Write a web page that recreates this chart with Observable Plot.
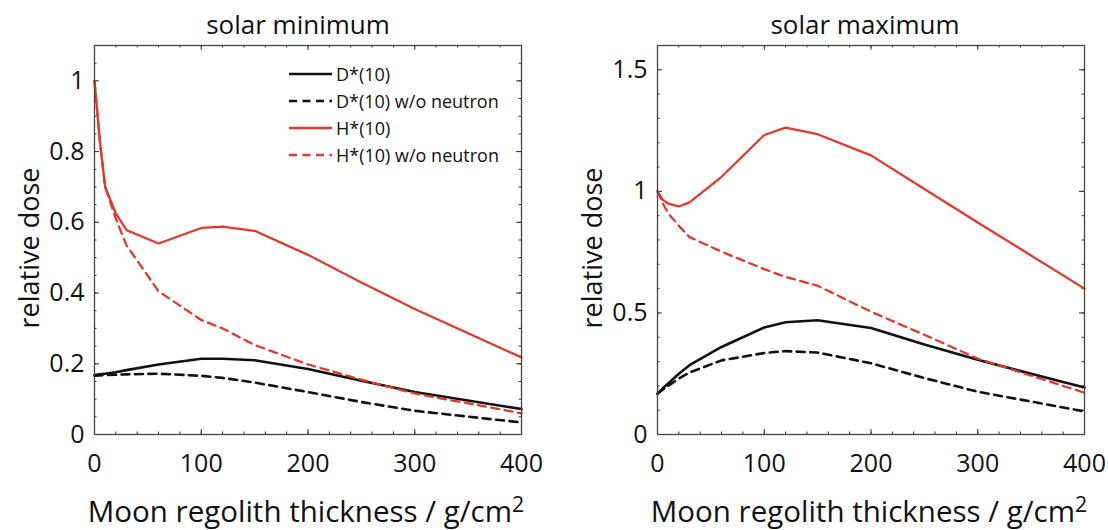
<!DOCTYPE html>
<html>
<head>
<meta charset="utf-8">
<script src="https://cdn.jsdelivr.net/npm/d3@7"></script>
<script src="https://cdn.jsdelivr.net/npm/@observablehq/plot@0.6"></script>
<style>
  body { margin: 0; background: #fff; }
  #chart { position: relative; width: 1108px; height: 530px; display: flex; font-family: "Open Sans", sans-serif; color: #111; }
  #chart svg { display: block; }
  .legend { position: absolute; left: 289px; top: 60px; font-size: 18px; line-height: 1; }
  .legend .row { display: flex; align-items: center; height: 27px; }
  .legend svg { margin-right: 4px; }
</style>
</head>
<body>
<div id="chart"></div>
<script>
// Regolith thickness (g/cm²) at which the doses were computed
const thickness = [0, 5, 10, 20, 30, 60, 100, 120, 150, 200, 250, 300, 400];

// Solar minimum, relative dose
const minDose             = [0.168, 0.170, 0.172, 0.176, 0.182, 0.198, 0.214, 0.214, 0.210, 0.185, 0.152, 0.120, 0.072];
const minDoseNoNeutron    = [0.166, 0.167, 0.168, 0.169, 0.170, 0.172, 0.166, 0.160, 0.147, 0.120, 0.092, 0.067, 0.034];
const minAmbient          = [1.000, 0.830, 0.700, 0.625, 0.578, 0.540, 0.584, 0.588, 0.576, 0.508, 0.430, 0.355, 0.218];
const minAmbientNoNeutron = [1.000, 0.830, 0.700, 0.610, 0.535, 0.405, 0.324, 0.300, 0.253, 0.198, 0.155, 0.116, 0.060];

// Solar maximum, relative dose
const maxDose             = [0.168, 0.190, 0.210, 0.250, 0.285, 0.360, 0.440, 0.462, 0.470, 0.438, 0.370, 0.307, 0.193];
const maxDoseNoNeutron    = [0.168, 0.185, 0.200, 0.230, 0.255, 0.305, 0.335, 0.343, 0.337, 0.293, 0.232, 0.176, 0.095];
const maxAmbient          = [1.000, 0.965, 0.950, 0.938, 0.955, 1.060, 1.232, 1.262, 1.235, 1.148, 1.010, 0.872, 0.600];
const maxAmbientNoNeutron = [1.000, 0.950, 0.910, 0.858, 0.812, 0.752, 0.680, 0.648, 0.612, 0.505, 0.410, 0.312, 0.172];

const seriesNames = ["D*(10)", "D*(10) w/o neutron", "H*(10)", "H*(10) w/o neutron"];
const seriesColors = ["#111111", "#111111", "#e03a2c", "#e03a2c"];
const seriesDash = [null, "8,5.5", null, "8,5.5"];

const xMajor = [0, 100, 200, 300, 400];
const xMinor = d3.range(0, 401, 20);
const minYMajor = [0, 0.2, 0.4, 0.6, 0.8, 1];
const minYMinor = d3.range(0, 22).map(i => i * 0.05);
const maxYMajor = [0, 0.5, 1, 1.5];
const maxYMinor = d3.range(0, 17).map(i => i * 0.1);

const xLabel = "Moon regolith thickness / g/cm";
const yLabel = "relative dose";
const font = "'Open Sans', sans-serif";

function panel({title, values, yMax, yMajor, yMinor, width, marginLeft, marginRight, titleShift}) {
  const height = 530, marginTop = 45, marginBottom = 96;
  const innerW = width - marginLeft - marginRight;
  const innerH = height - marginTop - marginBottom;
  const tickColor = "#333";
  const major = 5, minor = 2.5;

  const lines = values.map((ys, k) =>
    Plot.line(thickness.map((t, i) => ({t, v: ys[i]})), {
      x: "t", y: "v",
      stroke: seriesColors[k],
      strokeWidth: k < 2 ? 2.6 : 2.3,
      strokeDasharray: seriesDash[k]
    })
  );

  const svg = Plot.plot({
    width, height, marginLeft, marginRight, marginTop, marginBottom,
    x: {domain: [0, 400]},
    y: {domain: [0, yMax]},
    style: {fontFamily: font, fontSize: "24px", color: "#111", background: "white", overflow: "visible"},
    marks: [
      // inward ticks on all four sides
      Plot.tickY(yMinor, {y: d => d, insetRight: innerW - minor, stroke: tickColor}),
      Plot.tickY(yMinor, {y: d => d, insetLeft: innerW - minor, stroke: tickColor}),
      Plot.tickY(yMajor, {y: d => d, insetRight: innerW - major, stroke: tickColor}),
      Plot.tickY(yMajor, {y: d => d, insetLeft: innerW - major, stroke: tickColor}),
      Plot.tickX(xMinor, {x: d => d, insetTop: innerH - minor, stroke: tickColor}),
      Plot.tickX(xMinor, {x: d => d, insetBottom: innerH - minor, stroke: tickColor}),
      Plot.tickX(xMajor, {x: d => d, insetTop: innerH - major, stroke: tickColor}),
      Plot.tickX(xMajor, {x: d => d, insetBottom: innerH - major, stroke: tickColor}),
      ...lines,
      Plot.frame({stroke: "#444", strokeWidth: 1.3}),
      Plot.axisX(xMajor, {tickSize: 0, tickPadding: 20, label: null, tickFormat: d => String(d), fontSize: 25}),
      Plot.axisY(yMajor, {tickSize: 0, tickPadding: 10, label: null, tickFormat: d => String(d), fontSize: 25}),
      Plot.text([title], {frameAnchor: "top", textAnchor: "middle", lineAnchor: "bottom", dy: -12, dx: titleShift, fontSize: 26, fill: "#111"}),
      Plot.text([xLabel], {frameAnchor: "bottom", textAnchor: "middle", lineAnchor: "bottom", dy: 87, dx: -2, fontSize: 29.5, fill: "#111"}),
      Plot.text([yLabel], {frameAnchor: "left", textAnchor: "middle", lineAnchor: "middle", rotate: -90, dx: -64, dy: 8, fontSize: 27, fill: "#111"})
    ]
  });

  // raise the "2" of cm²
  d3.select(svg).selectAll("text")
    .filter(function () { return this.textContent === xLabel; })
    .append("tspan")
    .attr("dy", "-0.45em")
    .attr("font-size", "0.72em")
    .text("2");
  return svg;
}

const chart = document.getElementById("chart");

chart.append(panel({
  title: "solar minimum",
  values: [minDose, minDoseNoNeutron, minAmbient, minAmbientNoNeutron],
  yMax: 1.1, yMajor: minYMajor, yMinor: minYMinor,
  width: 560, marginLeft: 94, marginRight: 39, titleShift: -10
}));

chart.append(panel({
  title: "solar maximum",
  values: [maxDose, maxDoseNoNeutron, maxAmbient, maxAmbientNoNeutron],
  yMax: 1.6, yMajor: maxYMajor, yMinor: maxYMinor,
  width: 548, marginLeft: 97, marginRight: 24, titleShift: -6
}));

// legend inside the left panel
const legend = d3.select(chart).append("div").attr("class", "legend");
seriesNames.forEach((name, k) => {
  const row = legend.append("div").attr("class", "row");
  const s = row.append("svg").attr("width", 43).attr("height", 10);
  s.append("line")
    .attr("x1", 0).attr("x2", 43).attr("y1", 5).attr("y2", 5)
    .attr("stroke", seriesColors[k])
    .attr("stroke-width", k < 2 ? 2.6 : 2.3)
    .attr("stroke-dasharray", seriesDash[k]);
  row.append("span").text(name);
});
</script>
</body>
</html>
